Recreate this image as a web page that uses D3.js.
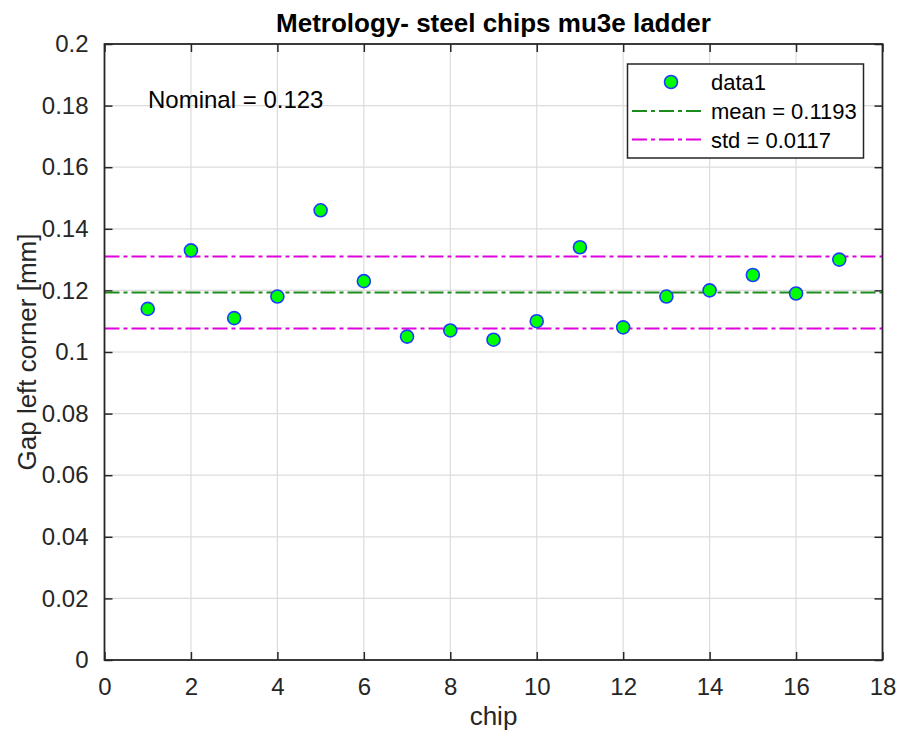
<!DOCTYPE html>
<html><head><meta charset="utf-8">
<script src="https://cdn.jsdelivr.net/npm/d3@7"></script>
<style>
html,body{margin:0;padding:0;background:#fff;}
svg{display:block;font-family:"Liberation Sans",Arial,sans-serif;}
</style></head>
<body>
<svg id="chart" width="902" height="734"></svg>
<script>
const chips = [1,2,3,4,5,6,7,8,9,10,11,12,13,14,15,16,17];
const gaps = [0.114,0.133,0.111,0.118,0.146,0.123,0.105,0.107,0.104,0.110,0.134,0.108,0.118,0.120,0.125,0.119,0.130];
const meanValue = 0.1193;
const stdValue = 0.0117;
const nominalValue = 0.123;
const xTicks = [0,2,4,6,8,10,12,14,16,18];
const yTicks = [0,0.02,0.04,0.06,0.08,0.1,0.12,0.14,0.16,0.18,0.2];
const legendLabels = ["data1","mean = 0.1193","std = 0.0117"];
const titleText = "Metrology- steel chips mu3e ladder";
const xLabelText = "chip";
const yLabelText = "Gap left corner [mm]";

const svg = d3.select("#chart");
const L = 104.5, R = 882.5, T = 44, B = 660;
const x = d3.scaleLinear().domain([0,18]).range([L,R]);
const y = d3.scaleLinear().domain([0,0.2]).range([B,T]);
const axisColor = "#262626";
const textColor = "#262626";

// grid
const g = svg.append("g");
g.selectAll(".gx").data(xTicks.slice(1,-1)).join("line")
  .attr("x1",d=>x(d)).attr("x2",d=>x(d)).attr("y1",T).attr("y2",B)
  .attr("stroke","#dcdcdc").attr("stroke-width",1.2);
g.selectAll(".gy").data(yTicks.slice(1,-1)).join("line")
  .attr("y1",d=>y(d)).attr("y2",d=>y(d)).attr("x1",L).attr("x2",R)
  .attr("stroke","#dcdcdc").attr("stroke-width",1.2);

// axes with inward ticks
const tickLen = 8;
const fmtY = d => d===0 ? "0" : String(+d.toFixed(2));
const xAxisB = d3.axisBottom(x).tickValues(xTicks).tickSize(-tickLen).tickPadding(tickLen+10).tickFormat(d=>d);
const xAxisT = d3.axisTop(x).tickValues(xTicks).tickSize(-tickLen).tickFormat("");
const yAxisL = d3.axisLeft(y).tickValues(yTicks).tickSize(-tickLen).tickPadding(tickLen+8).tickFormat(fmtY);
const yAxisR = d3.axisRight(y).tickValues(yTicks).tickSize(-tickLen).tickFormat("");

function style(sel){
  sel.select(".domain").remove();
  sel.selectAll(".tick line").attr("stroke",axisColor).attr("stroke-width",1.5);
  sel.selectAll(".tick text").attr("fill",textColor).style("font-size","24px").style("font-family","'Liberation Sans',Arial,sans-serif");
}
svg.append("g").attr("transform",`translate(0,${B})`).call(xAxisB).call(style);
svg.append("g").attr("transform",`translate(0,${T})`).call(xAxisT).call(style);
svg.append("g").attr("transform",`translate(${L},0)`).call(yAxisL).call(style);
svg.append("g").attr("transform",`translate(${R},0)`).call(yAxisR).call(style);

// reference lines
const lines = [
  {v: meanValue, c:"#1c8c1c"},
  {v: meanValue+stdValue, c:"#e000e0"},
  {v: meanValue-stdValue, c:"#e000e0"}
];
svg.selectAll(".ref").data(lines).join("line")
  .attr("x1",L).attr("x2",R).attr("y1",d=>y(d.v)).attr("y2",d=>y(d.v))
  .attr("stroke",d=>d.c).attr("stroke-width",2).attr("stroke-dasharray","15,4,4,4");

// points
svg.selectAll(".pt").data(chips).join("circle")
  .attr("cx",d=>x(d)).attr("cy",(d,i)=>y(gaps[i])).attr("r",6.5)
  .attr("fill","#00ff00").attr("stroke","#1a3cff").attr("stroke-width",1.6);

// box
svg.append("rect").attr("x",L).attr("y",T).attr("width",R-L).attr("height",B-T)
  .attr("fill","none").attr("stroke",axisColor).attr("stroke-width",1.8);

// title and labels
svg.append("text").attr("x",(L+R)/2).attr("y",32).attr("text-anchor","middle")
  .attr("font-weight","bold").attr("font-size",26).attr("fill","#000").text(titleText);
svg.append("text").attr("x",(L+R)/2).attr("y",725).attr("text-anchor","middle")
  .attr("font-size",26).attr("fill",textColor).text(xLabelText);
svg.append("text").attr("transform",`translate(36,${(T+B)/2}) rotate(-90)`).attr("text-anchor","middle")
  .attr("font-size",26).attr("fill",textColor).text(yLabelText);

// nominal text
svg.append("text").attr("x",148).attr("y",108).attr("font-size",24).attr("fill","#000")
  .text("Nominal = " + nominalValue);

// legend
const lg = svg.append("g");
lg.append("rect").attr("x",627.5).attr("y",64).attr("width",236).attr("height",94)
  .attr("fill","#fff").attr("stroke",axisColor).attr("stroke-width",1.5);
const rowsY = [82,111,139.5];
lg.append("circle").attr("cx",671).attr("cy",rowsY[0]).attr("r",6.5)
  .attr("fill","#00ff00").attr("stroke","#1a3cff").attr("stroke-width",1.6);
lg.append("line").attr("x1",632).attr("x2",703).attr("y1",rowsY[1]).attr("y2",rowsY[1])
  .attr("stroke",lines[0].c).attr("stroke-width",2).attr("stroke-dasharray","15,4,4,4");
lg.append("line").attr("x1",632).attr("x2",703).attr("y1",rowsY[2]).attr("y2",rowsY[2])
  .attr("stroke",lines[1].c).attr("stroke-width",2).attr("stroke-dasharray","15,4,4,4");
lg.selectAll(".lt").data(legendLabels).join("text")
  .attr("x",711).attr("y",(d,i)=>rowsY[i]+8).attr("font-size",22).attr("fill","#000").text(d=>d);
</script>
</body></html>
